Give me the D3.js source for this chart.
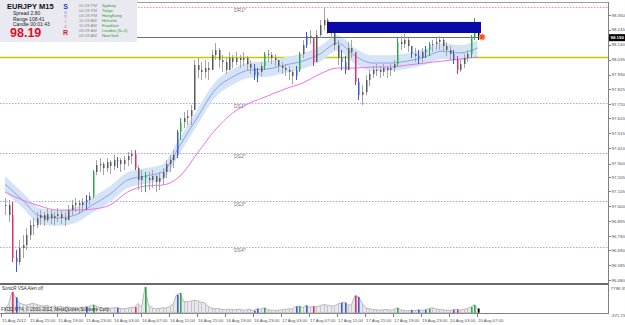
<!DOCTYPE html>
<html>
<head>
<meta charset="utf-8">
<script src="https://cdn.jsdelivr.net/npm/d3@7"></script>
<style>
body { margin: 0; background: #fff; }
svg { display: block; font-family: "Liberation Sans", Arial, sans-serif; }
</style>
</head>
<body>
<svg id="chart" width="625" height="325"></svg>
<script>
// EURJPY M15 bars (high / low / close)
const highs = [
  97.058, 97.044, 97.030, 96.691, 96.762, 96.797, 96.846, 96.903, 96.917, 96.959,
  96.973, 96.959, 96.988, 96.973, 96.959, 96.988, 96.973, 96.959, 97.009, 97.044,
  97.058, 97.044, 97.058, 97.079, 97.100, 97.256, 97.326, 97.341, 97.312, 97.341,
  97.326, 97.362, 97.348, 97.341, 97.355, 97.383, 97.397, 97.397, 97.291, 97.256,
  97.242, 97.242, 97.256, 97.220, 97.242, 97.270, 97.326, 97.362, 97.397, 97.538,
  97.623, 97.665, 97.679, 97.715, 98.032, 98.047, 98.018, 98.032, 98.018, 98.103,
  98.152, 98.117, 98.068, 98.047, 98.089, 98.068, 98.089, 98.068, 98.089, 98.061,
  98.032, 98.004, 97.976, 98.018, 98.089, 98.103, 98.089, 98.075, 98.032, 98.018,
  98.004, 97.990, 97.962, 97.990, 98.089, 98.174, 98.230, 98.244, 98.188, 98.244,
  98.315, 98.400, 98.329, 98.301, 98.244, 98.174, 98.103, 98.061, 98.159, 98.174,
  98.068, 97.905, 97.856, 97.926, 97.962, 97.990, 98.004, 97.990, 98.004, 97.990,
  98.004, 98.032, 98.188, 98.202, 98.216, 98.188, 98.131, 98.117, 98.103, 98.117,
  98.131, 98.159, 98.174, 98.188, 98.202, 98.188, 98.159, 98.131, 98.103, 98.061,
  98.032, 98.075, 98.103, 98.209, 98.329, 98.279
]
const lows = [
  96.938, 96.889, 96.606, 96.536, 96.585, 96.635, 96.691, 96.762, 96.797, 96.846,
  96.867, 96.860, 96.889, 96.875, 96.867, 96.889, 96.875, 96.860, 96.903, 96.938,
  96.959, 96.945, 96.959, 96.973, 97.009, 97.058, 97.220, 97.242, 97.220, 97.242,
  97.228, 97.256, 97.270, 97.242, 97.256, 97.284, 97.298, 97.256, 97.115, 97.100,
  97.100, 97.115, 97.129, 97.100, 97.115, 97.150, 97.199, 97.242, 97.270, 97.341,
  97.468, 97.552, 97.573, 97.573, 97.679, 97.905, 97.891, 97.905, 97.891, 97.976,
  98.032, 97.976, 97.948, 97.934, 97.962, 97.976, 97.997, 97.976, 97.990, 97.962,
  97.934, 97.891, 97.877, 97.919, 97.962, 98.018, 98.004, 97.990, 97.948, 97.934,
  97.919, 97.891, 97.863, 97.891, 97.948, 98.047, 98.117, 98.145, 97.990, 98.032,
  98.188, 98.244, 98.216, 98.188, 98.103, 97.997, 97.962, 97.934, 98.032, 98.047,
  97.856, 97.750, 97.715, 97.785, 97.849, 97.905, 97.919, 97.905, 97.919, 97.905,
  97.919, 97.948, 97.990, 98.103, 98.117, 98.089, 98.047, 98.018, 98.004, 98.018,
  98.047, 98.061, 98.089, 98.103, 98.103, 98.089, 98.061, 98.032, 98.004, 97.934,
  97.948, 97.976, 98.018, 98.047, 98.174, 98.174
]
const closes = [
  97.009, 96.938, 96.635, 96.606, 96.705, 96.726, 96.797, 96.867, 96.867, 96.917,
  96.938, 96.903, 96.945, 96.917, 96.931, 96.945, 96.917, 96.903, 96.973, 97.009,
  97.023, 97.009, 97.030, 97.044, 97.072, 97.242, 97.291, 97.298, 97.270, 97.312,
  97.284, 97.326, 97.326, 97.298, 97.326, 97.355, 97.369, 97.270, 97.185, 97.213,
  97.199, 97.185, 97.213, 97.171, 97.199, 97.242, 97.298, 97.326, 97.362, 97.524,
  97.595, 97.623, 97.637, 97.679, 97.997, 97.962, 97.948, 97.976, 97.962, 98.068,
  98.103, 98.032, 98.018, 97.962, 98.047, 98.018, 98.047, 98.032, 98.047, 98.004,
  97.976, 97.926, 97.948, 97.990, 98.075, 98.068, 98.047, 98.032, 97.990, 97.976,
  97.962, 97.948, 97.919, 97.962, 98.075, 98.138, 98.202, 98.188, 98.018, 98.209,
  98.279, 98.315, 98.279, 98.230, 98.138, 98.047, 98.018, 97.962, 98.117, 98.089,
  97.877, 97.785, 97.806, 97.891, 97.934, 97.962, 97.962, 97.948, 97.976, 97.962,
  97.976, 98.004, 98.159, 98.145, 98.174, 98.131, 98.075, 98.061, 98.047, 98.089,
  98.103, 98.145, 98.145, 98.159, 98.174, 98.131, 98.103, 98.075, 98.032, 97.962,
  98.004, 98.047, 98.075, 98.188, 98.279, 98.190
]
// VSA colouring per bar: . grey, g green, b blue, r red, k black
const barColors = "..rb......" + ".........." + "...b.g...." + "..b....r.." +
  "g........b" + "g........." + ".........." + ".bb.g....." + "...bg.b.r." +
  "......bb.." + "rb........" + "..g...b.b." + "bg......br" + "...ggk"
const volumes = [
  1500, 2500, 6300, 4700, 3000, 2600, 2300, 2600, 2900, 2500,
  2200, 2000, 2300, 1800, 2000, 1700, 1900, 1600, 1800, 1500,
  1700, 1400, 1600, 1800, 1900, 2400, 2100, 1500, 1300, 1600,
  1400, 1500, 1500, 1300, 1200, 1400, 1600, 1700, 2800, 1600,
  7800, 2200, 1500, 1200, 1300, 1500, 1400, 1900, 2600, 5400,
  6000, 3500, 3300, 3500, 3800, 3600, 3200, 3000, 2000, 1400,
  1200, 1300, 1000, 900, 1100, 1000, 900, 1100, 800, 900,
  1000, 600, 1200, 1100, 1500, 900, 800, 700, 800, 900,
  1000, 1200, 1100, 1900, 2000, 1600, 2200, 1700, 1900, 1800,
  2100, 2500, 2300, 2200, 2000, 2600, 3000, 3100, 2300, 2500,
  5200, 4800, 3000, 1500, 1200, 1000, 900, 800, 900, 1000,
  800, 900, 1500, 900, 700, 600, 800, 600, 900, 700,
  900, 1200, 1500, 1200, 1000, 900, 800, 700, 900, 1000,
  800, 1000, 1200, 1700, 2400, 1300
]
// moving averages read every 5 bars
const maIndex = [0, 5, 10, 15, 20, 25, 30, 35, 40, 45, 50, 55, 60, 65, 70, 75, 80, 85, 90, 95, 100, 105, 110, 115, 120, 125, 130, 135]
const maFast = [
  97.157, 97.044, 96.931, 96.917, 96.938, 97.009, 97.086, 97.185, 97.213, 97.242,
  97.432, 97.630, 97.821, 97.912, 97.962, 97.969, 97.997, 98.025, 98.075, 98.152,
  98.061, 98.011, 98.011, 98.025, 98.054, 98.096, 98.082, 98.117
]
const maSlow = [
  97.100, 97.044, 97.002, 96.973, 96.973, 96.980, 97.009, 97.100, 97.143, 97.150,
  97.213, 97.376, 97.538, 97.658, 97.729, 97.778, 97.828, 97.870, 97.934, 97.976,
  97.976, 97.983, 97.983, 97.997, 98.011, 98.025, 98.039, 98.054
]
const bandWidth = 0.055

const levelNames = ["DR1*", "DS1*", "DS2*", "DS3*", "DS4*"]
const levelPrices = [98.407, 97.729, 97.376, 97.037, 96.712]
const pivotPrice = 98.054
const lineStartBar = 37
const linePrice = 98.195
const boxBars = [92, 136]
const boxPrices = [98.301, 98.223]

const priceTicks = ["98.350", "98.245", "98.140", "98.035", "97.930", "97.825", "97.720", "97.620", "97.515",
  "97.410", "97.300", "97.205", "97.105", "97.000", "96.895", "96.790", "96.690", "96.585", "96.480"]
const currentPrice = "98.190"
const volumeTicks = ["7798.35", "-371.15"]
const timeLabels = ["15 Aug 2012", "15 Aug 15:00", "15 Aug 19:00", "15 Aug 23:00", "16 Aug 03:00", "16 Aug 07:00",
  "16 Aug 11:00", "16 Aug 15:00", "16 Aug 19:00", "16 Aug 23:00", "17 Aug 03:00", "17 Aug 07:00",
  "17 Aug 11:00", "17 Aug 15:00", "17 Aug 19:00", "19 Aug 23:00", "20 Aug 03:00", "20 Aug 07:00"]
const labelEvery = 8

const infoRows = ["Spread  2.80", "Range  108.41", "Candle  00:01:43"]
const sessionTimes = ["05:28 PM", "04:28 PM", "03:28 PM", "10:28 AM", "10:28 AM", "09:28 AM", "03:28 AM"]
const sessionNames = ["Sydney", "Tokyo", "HongKong", "Helsinki", "Frankfurt", "London (S+1)", "NewYork"]
const sonicLetters = ["S", "o", "n", "i", "c", "R"]

const colorMap = {".": "#a4a4a4", "g": "#2fa84f", "b": "#3a5ad8", "r": "#e0306a", "k": "#000000"}

const W = 625
const axisX = 608
const mainTop = 2
const mainBottom = 283
const volBottom = 313

let svg = d3.select("#chart")
let x = d3.scaleLinear().domain([0, 135]).range([5, 477.5])
let y = d3.scaleLinear().domain([96.48, 98.35]).range([280, 15])
let yv = d3.scaleLinear().domain([-371.15, 7798.35]).range([314, 287])
let snap = v => Math.round(v) + 0.5

svg.append("rect").attr("width", W).attr("height", 325).attr("fill", "#fff")

// pivot levels
svg.append("line")
  .attr("x1", 0).attr("x2", axisX)
  .attr("y1", snap(y(pivotPrice))).attr("y2", snap(y(pivotPrice)))
  .attr("stroke", "#c4cc00").attr("stroke-width", 1.3)
svg.append("g").selectAll("line")
  .data(levelPrices)
  .join("line")
    .attr("x1", 0).attr("x2", axisX)
    .attr("y1", d => snap(y(d))).attr("y2", d => snap(y(d)))
    .attr("stroke", (d, i) => i == 0 ? "#ff8c8c" : "#a4a4ff")
    .attr("stroke-dasharray", "1.5,1.5")

// moving averages with envelope
let maFastData = maIndex.map((i, k) => ({i, v: maFast[k]}))
let maSlowData = maIndex.map((i, k) => ({i, v: maSlow[k]}))
svg.append("path")
  .datum(maFastData)
  .attr("fill", "#d3e4f7")
  .attr("d", d3.area().curve(d3.curveMonotoneX)
    .x(d => x(d.i)).y0(d => y(d.v - bandWidth)).y1(d => y(d.v + bandWidth)))
svg.append("path")
  .datum(maFastData)
  .attr("fill", "none").attr("stroke", "#9a9ae6")
  .attr("d", d3.line().curve(d3.curveMonotoneX).x(d => x(d.i)).y(d => y(d.v)))
svg.append("path")
  .datum(maSlowData)
  .attr("fill", "none").attr("stroke", "#f070f0")
  .attr("d", d3.line().curve(d3.curveMonotoneX).x(d => x(d.i)).y(d => y(d.v)))

// horizontal line
svg.append("line")
  .attr("x1", x(lineStartBar)).attr("x2", x(135) + 2)
  .attr("y1", snap(y(linePrice))).attr("y2", snap(y(linePrice)))
  .attr("stroke", "#707070")

// bars
let bars = highs.map((h, i) => ({i, h, l: lows[i], c: closes[i], o: i > 0 ? closes[i - 1] : closes[i], code: barColors[i]}))
let barG = svg.append("g")
barG.selectAll("line")
  .data(bars)
  .join("line")
    .attr("x1", d => snap(x(d.i))).attr("x2", d => snap(x(d.i)))
    .attr("y1", d => y(d.h)).attr("y2", d => y(d.l))
    .attr("stroke", d => colorMap[d.code])
barG.selectAll("rect")
  .data(bars)
  .join("rect")
    .attr("x", d => Math.round(x(d.i)))
    .attr("width", 1.5)
    .attr("y", d => y(Math.max(d.o, d.c)))
    .attr("height", d => Math.max(1, Math.abs(y(d.o) - y(d.c))))
    .attr("fill", d => d.code == "." ? "#5a5a5a" : colorMap[d.code])

// box and marker
svg.append("rect")
  .attr("x", x(boxBars[0])).attr("width", x(boxBars[1]) - x(boxBars[0]))
  .attr("y", y(boxPrices[0])).attr("height", y(boxPrices[1]) - y(boxPrices[0]))
  .attr("fill", "#0a0aa6")
svg.append("circle")
  .attr("cx", x(136) + 1).attr("cy", y(linePrice))
  .attr("r", 3).attr("fill", "#ff5020").attr("stroke", "#ffa880")

// level labels
svg.append("g").selectAll("text")
  .data(levelPrices)
  .join("text")
    .attr("x", 234).attr("y", d => y(d) + 5)
    .attr("font-size", 5).attr("fill", "#7a7a7a")
    .text((d, i) => levelNames[i])

// frame
svg.append("line").attr("x1", 0).attr("x2", axisX).attr("y1", mainTop + 0.5).attr("y2", mainTop + 0.5).attr("stroke", "#a0a0a0")
svg.append("line").attr("x1", axisX + 0.5).attr("x2", axisX + 0.5).attr("y1", mainTop).attr("y2", volBottom + 1).attr("stroke", "#808080")
svg.append("line").attr("x1", 0).attr("x2", axisX).attr("y1", mainBottom + 1).attr("y2", mainBottom + 1).attr("stroke", "#6a6a6a").attr("stroke-width", 2)
svg.append("line").attr("x1", 0).attr("x2", axisX).attr("y1", volBottom + 0.5).attr("y2", volBottom + 0.5).attr("stroke", "#808080")

// price axis
let tickG = svg.append("g").attr("font-size", 4.4).attr("fill", "#505050")
tickG.selectAll("line")
  .data(priceTicks)
  .join("line")
    .attr("x1", axisX).attr("x2", axisX + 3)
    .attr("y1", d => snap(y(+d))).attr("y2", d => snap(y(+d)))
    .attr("stroke", "#808080")
tickG.selectAll("text")
  .data(priceTicks)
  .join("text")
    .attr("x", 611.5).attr("y", d => y(+d) + 1.6)
    .text(d => d)
svg.append("rect").attr("x", 609).attr("y", y(+currentPrice) - 3.5).attr("width", 16).attr("height", 7).attr("fill", "#000")
svg.append("text").attr("x", 610.5).attr("y", y(+currentPrice) + 1.6)
  .attr("font-size", 4.4).attr("fill", "#fff").attr("font-weight", "bold").text(currentPrice)

// volume panel
let vols = volumes.map((v, i) => ({i, v, code: barColors[i]}))
svg.append("path")
  .datum(vols)
  .attr("fill", "#e8e8ec").attr("stroke", "#a8a8a8").attr("stroke-width", 0.8)
  .attr("d", d3.area().x(d => x(d.i)).y0(yv(0)).y1(d => yv(d.v)))
svg.append("g").selectAll("line")
  .data(vols.filter(d => d.code == "."))
  .join("line")
    .attr("x1", d => snap(x(d.i))).attr("x2", d => snap(x(d.i)))
    .attr("y1", d => yv(d.v)).attr("y2", yv(0))
    .attr("stroke", "#c4c4cc")
svg.append("g").selectAll("rect")
  .data(vols.filter(d => d.code != "."))
  .join("rect")
    .attr("x", d => Math.round(x(d.i))).attr("width", 1.6)
    .attr("y", d => yv(d.v)).attr("height", d => yv(0) - yv(d.v))
    .attr("fill", d => colorMap[d.code])
svg.append("g").attr("font-size", 4.4).attr("fill", "#505050")
  .selectAll("text")
  .data(volumeTicks)
  .join("text")
    .attr("x", 610.5).attr("y", d => +d > 0 ? 289.5 : 317)
    .text(d => d)
svg.append("text").attr("x", 2).attr("y", 290).attr("font-size", 4.5).attr("fill", "#303030")
  .text("SonicR VSA    Alert off")
svg.append("text").attr("x", 1).attr("y", 311).attr("font-size", 4.5).attr("fill", "#303030")
  .text("FXDD MT4, \u00a9 2001-2012, MetaQuotes Software Corp.")

// time axis
let timeG = svg.append("g").attr("font-size", 4.3).attr("fill", "#505050")
timeG.selectAll("line")
  .data(timeLabels)
  .join("line")
    .attr("x1", (d, k) => Math.round(x(k * labelEvery)) - 3.5).attr("x2", (d, k) => Math.round(x(k * labelEvery)) - 3.5)
    .attr("y1", volBottom).attr("y2", volBottom + 4)
    .attr("stroke", "#808080")
timeG.selectAll("text")
  .data(timeLabels)
  .join("text")
    .attr("x", (d, k) => Math.max(0.5, x(k * labelEvery) - 3))
    .attr("y", 322)
    .text(d => d)

// info panel
let panel = svg.append("g")
panel.append("rect").attr("x", 0).attr("y", 0).attr("width", 137).attr("height", 42).attr("fill", "#e9e9f1")
panel.append("text").attr("x", 7).attr("y", 9).attr("font-size", 7.5).attr("font-weight", "bold").attr("fill", "#111")
  .text("EURJPY   M15")
panel.selectAll("text.info")
  .data(infoRows)
  .join("text")
    .classed("info", true)
    .attr("x", 13).attr("y", (d, k) => 15 + k * 5.5)
    .attr("font-size", 5).attr("fill", "#222")
    .text(d => d)
panel.append("text").attr("x", 10).attr("y", 36.5).attr("font-size", 12.5).attr("font-weight", "bold").attr("fill", "#d8102c")
  .text("98.19")
let sonicColors = ["#1f3fd0", "#6a86e0", "#9a86c8", "#c07aa6", "#d8605e", "#e01818"]
let sonicY = [8.5, 13.5, 18, 22.5, 27.5, 35]
panel.selectAll("text.sonic")
  .data(sonicLetters)
  .join("text")
    .classed("sonic", true)
    .attr("x", 65.5).attr("y", (d, k) => sonicY[k])
    .attr("text-anchor", "middle")
    .attr("font-size", (d, k) => k == 0 || k == 5 ? 7 : 4.5)
    .attr("font-weight", (d, k) => k == 0 || k == 5 ? "bold" : "normal")
    .attr("fill", (d, k) => sonicColors[k])
    .text(d => d)
panel.selectAll("text.stime")
  .data(sessionTimes)
  .join("text")
    .classed("stime", true)
    .attr("x", 79).attr("y", (d, k) => 6.5 + k * 5.1)
    .attr("font-size", 4.2).attr("fill", "#8a8a8a")
    .text(d => d)
panel.selectAll("text.sname")
  .data(sessionNames)
  .join("text")
    .classed("sname", true)
    .attr("x", 102).attr("y", (d, k) => 6.5 + k * 5.1)
    .attr("font-size", 4.2).attr("fill", "#2f9a2f")
    .text(d => d)
</script>
</body>
</html>
